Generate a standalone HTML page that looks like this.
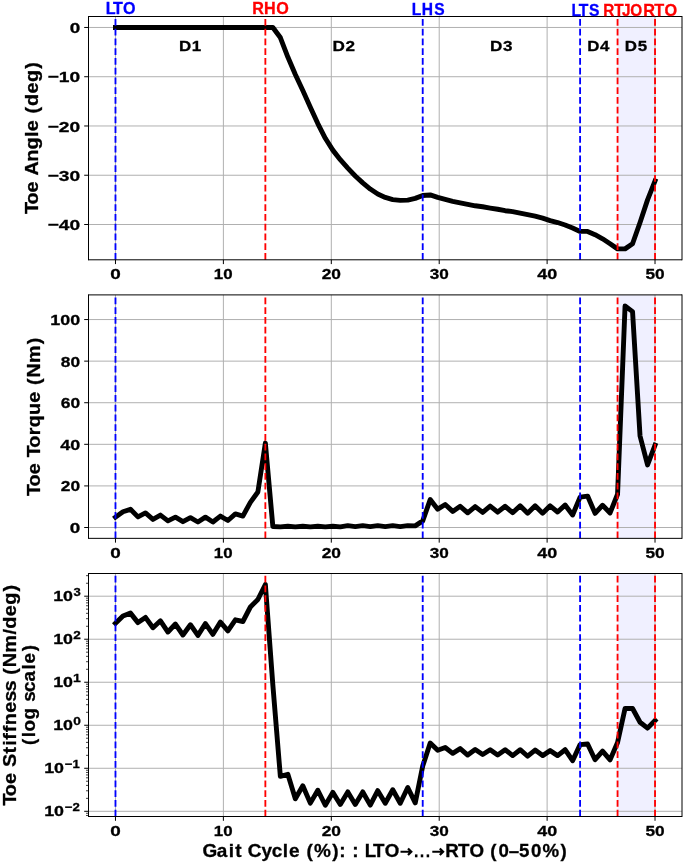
<!DOCTYPE html><html><head><meta charset="utf-8"><style>html,body{margin:0;padding:0;background:#fff;overflow:hidden}svg{display:block}text{font-family:"Liberation Sans",sans-serif;font-weight:bold;font-kerning:none;white-space:pre}svg{will-change:transform}</style></head><body>
<svg width="685" height="864" viewBox="0 0 685 864">
<rect width="685" height="864" fill="#fff"/>
<clipPath id="c0"><rect x="88.5" y="16.5" width="593.5" height="243.3"/></clipPath>
<rect x="617.56" y="16.5" width="37.47" height="243.30" fill="#f0f0ff"/>
<path d="M115.48 16.5V259.8M223.39 16.5V259.8M331.30 16.5V259.8M439.21 16.5V259.8M547.12 16.5V259.8M655.03 16.5V259.8M88.5 27.46H682.0M88.5 76.72H682.0M88.5 125.98H682.0M88.5 175.24H682.0M88.5 224.50H682.0" stroke="#b0b0b0" stroke-width="1" fill="none"/>
<polyline clip-path="url(#c0)" points="115.48,27.46 122.97,27.46 130.47,27.46 137.96,27.46 145.46,27.46 152.95,27.46 160.44,27.46 167.94,27.46 175.43,27.46 182.92,27.46 190.42,27.46 197.91,27.46 205.41,27.46 212.90,27.46 220.39,27.46 227.89,27.46 235.38,27.46 242.87,27.46 250.37,27.46 257.86,27.46 265.36,27.46 272.85,27.46 280.34,37.56 287.84,57.02 295.33,74.50 302.82,90.51 310.32,107.26 317.81,123.52 325.31,138.30 332.80,150.12 340.29,159.72 347.79,168.10 355.28,175.98 362.77,182.88 370.27,189.03 377.76,193.96 385.26,197.41 392.75,199.62 400.24,200.36 407.74,200.12 415.23,198.39 422.72,195.44 430.22,194.94 437.71,197.41 445.21,199.38 452.70,201.35 460.19,202.83 467.69,204.30 475.18,205.78 482.67,206.77 490.17,208.05 497.66,209.23 505.16,210.71 512.65,211.69 520.14,213.17 527.64,214.65 535.13,216.13 542.62,218.10 550.12,220.56 557.61,222.53 565.11,224.99 572.60,227.95 580.09,231.40 587.59,231.40 595.08,234.65 602.57,238.79 610.07,243.71 617.56,248.88 625.05,248.88 632.55,243.71 640.04,222.53 647.54,199.87 655.03,180.95" fill="none" stroke="#000" stroke-width="4.9" stroke-linejoin="round" stroke-linecap="square"/>
<path d="M115.48 259.8V16.5" stroke="#0000ff" stroke-width="1.84" stroke-dasharray="6.8 2.95" fill="none"/>
<path d="M265.36 259.8V16.5" stroke="#ff0000" stroke-width="1.84" stroke-dasharray="6.8 2.95" fill="none"/>
<path d="M422.72 259.8V16.5" stroke="#0000ff" stroke-width="1.84" stroke-dasharray="6.8 2.95" fill="none"/>
<path d="M580.09 259.8V16.5" stroke="#0000ff" stroke-width="1.84" stroke-dasharray="6.8 2.95" fill="none"/>
<path d="M617.56 259.8V16.5" stroke="#ff0000" stroke-width="1.84" stroke-dasharray="6.8 2.95" fill="none"/>
<path d="M655.03 259.8V16.5" stroke="#ff0000" stroke-width="1.84" stroke-dasharray="6.8 2.95" fill="none"/>
<path d="M88.5 16.5H682.0M88.5 259.8H682.0M88.5 16.0V260.3M682.0 16.0V260.3" stroke="#000" stroke-width="1" fill="none"/>
<path d="M115.48 259.8v4.3M223.39 259.8v4.3M331.30 259.8v4.3M439.21 259.8v4.3M547.12 259.8v4.3M655.03 259.8v4.3M88.5 27.46h-4.3M88.5 76.72h-4.3M88.5 125.98h-4.3M88.5 175.24h-4.3M88.5 224.50h-4.3" stroke="#000" stroke-width="1" fill="none"/>
<clipPath id="c1"><rect x="88.5" y="294.9" width="593.5" height="243.45000000000005"/></clipPath>
<rect x="617.56" y="294.9" width="37.47" height="243.45" fill="#f0f0ff"/>
<path d="M115.48 294.9V538.35M223.39 294.9V538.35M331.30 294.9V538.35M439.21 294.9V538.35M547.12 294.9V538.35M655.03 294.9V538.35M88.5 527.50H682.0M88.5 485.91H682.0M88.5 444.32H682.0M88.5 402.73H682.0M88.5 361.14H682.0M88.5 319.55H682.0" stroke="#b0b0b0" stroke-width="1" fill="none"/>
<polyline clip-path="url(#c1)" points="115.48,517.19 122.97,511.76 130.47,509.30 137.96,516.89 145.46,512.94 152.95,519.39 160.44,515.11 167.94,520.85 175.43,517.16 182.92,521.68 190.42,517.60 197.91,522.01 205.41,517.16 212.90,522.01 220.39,516.06 227.89,520.49 235.38,513.90 242.87,516.10 250.37,502.34 257.86,492.00 265.36,443.07 272.85,526.46 280.34,526.88 287.84,526.25 295.33,526.88 302.82,526.25 310.32,526.88 317.81,526.25 325.31,526.88 332.80,526.25 340.29,526.88 347.79,525.63 355.28,526.56 362.77,525.63 370.27,526.56 377.76,525.63 385.26,526.56 392.75,525.63 400.24,526.56 407.74,525.63 415.23,525.84 422.72,520.85 430.22,499.63 437.71,509.20 445.21,504.52 452.70,511.40 460.19,506.29 467.69,512.80 475.18,506.60 482.67,512.40 490.17,506.08 497.66,512.11 505.16,506.29 512.65,512.74 520.14,505.87 527.64,513.15 535.13,505.87 542.62,513.15 550.12,505.87 557.61,512.01 565.11,505.04 572.60,515.02 580.09,497.14 587.59,496.10 595.08,513.36 602.57,505.25 610.07,512.94 617.56,494.23 625.05,306.03 632.55,311.65 640.04,436.00 647.54,464.91 655.03,445.15" fill="none" stroke="#000" stroke-width="4.9" stroke-linejoin="round" stroke-linecap="square"/>
<path d="M115.48 538.35V294.9" stroke="#0000ff" stroke-width="1.84" stroke-dasharray="6.8 2.95" fill="none"/>
<path d="M265.36 538.35V294.9" stroke="#ff0000" stroke-width="1.84" stroke-dasharray="6.8 2.95" fill="none"/>
<path d="M422.72 538.35V294.9" stroke="#0000ff" stroke-width="1.84" stroke-dasharray="6.8 2.95" fill="none"/>
<path d="M580.09 538.35V294.9" stroke="#0000ff" stroke-width="1.84" stroke-dasharray="6.8 2.95" fill="none"/>
<path d="M617.56 538.35V294.9" stroke="#ff0000" stroke-width="1.84" stroke-dasharray="6.8 2.95" fill="none"/>
<path d="M655.03 538.35V294.9" stroke="#ff0000" stroke-width="1.84" stroke-dasharray="6.8 2.95" fill="none"/>
<path d="M88.5 294.9H682.0M88.5 538.35H682.0M88.5 294.4V538.85M682.0 294.4V538.85" stroke="#000" stroke-width="1" fill="none"/>
<path d="M115.48 538.35v4.3M223.39 538.35v4.3M331.30 538.35v4.3M439.21 538.35v4.3M547.12 538.35v4.3M655.03 538.35v4.3M88.5 527.50h-4.3M88.5 485.91h-4.3M88.5 444.32h-4.3M88.5 402.73h-4.3M88.5 361.14h-4.3M88.5 319.55h-4.3" stroke="#000" stroke-width="1" fill="none"/>
<clipPath id="c2"><rect x="88.5" y="573.5" width="593.5" height="243.0"/></clipPath>
<rect x="617.56" y="573.5" width="37.47" height="243.00" fill="#f0f0ff"/>
<path d="M115.48 573.5V816.5M223.39 573.5V816.5M331.30 573.5V816.5M439.21 573.5V816.5M547.12 573.5V816.5M655.03 573.5V816.5M88.5 811.30H682.0M88.5 768.28H682.0M88.5 725.26H682.0M88.5 682.24H682.0M88.5 639.22H682.0M88.5 596.20H682.0" stroke="#b0b0b0" stroke-width="1" fill="none"/>
<polyline clip-path="url(#c2)" points="115.48,623.30 122.97,615.99 130.47,613.11 137.96,622.61 145.46,617.41 152.95,627.73 160.44,620.81 167.94,632.04 175.43,624.03 182.92,635.00 190.42,624.72 197.91,635.43 205.41,623.60 212.90,634.32 220.39,622.10 227.89,630.83 235.38,619.82 242.87,621.50 250.37,607.00 257.86,599.51 265.36,584.50 272.85,685.04 280.34,776.28 287.84,774.30 295.33,798.82 302.82,785.79 310.32,803.13 317.81,790.22 325.31,805.28 332.80,792.37 340.29,804.42 347.79,791.90 355.28,804.42 362.77,791.94 370.27,805.11 377.76,790.65 385.26,803.30 392.75,789.70 400.24,803.30 407.74,787.47 415.23,802.91 422.72,766.09 430.22,743.07 437.71,750.25 445.21,747.46 452.70,753.35 460.19,748.58 467.69,755.07 475.18,749.44 482.67,754.51 490.17,749.70 497.66,754.94 505.16,749.70 512.65,755.59 520.14,749.70 527.64,756.23 535.13,750.08 542.62,755.59 550.12,750.60 557.61,755.59 565.11,749.70 572.60,760.67 580.09,744.66 587.59,743.97 595.08,759.68 602.57,751.07 610.07,759.89 617.56,742.47 625.05,708.48 632.55,708.48 640.04,722.25 647.54,728.14 655.03,720.57" fill="none" stroke="#000" stroke-width="4.9" stroke-linejoin="round" stroke-linecap="square"/>
<path d="M115.48 816.5V573.5" stroke="#0000ff" stroke-width="1.84" stroke-dasharray="6.8 2.95" fill="none"/>
<path d="M265.36 816.5V573.5" stroke="#ff0000" stroke-width="1.84" stroke-dasharray="6.8 2.95" fill="none"/>
<path d="M422.72 816.5V573.5" stroke="#0000ff" stroke-width="1.84" stroke-dasharray="6.8 2.95" fill="none"/>
<path d="M580.09 816.5V573.5" stroke="#0000ff" stroke-width="1.84" stroke-dasharray="6.8 2.95" fill="none"/>
<path d="M617.56 816.5V573.5" stroke="#ff0000" stroke-width="1.84" stroke-dasharray="6.8 2.95" fill="none"/>
<path d="M655.03 816.5V573.5" stroke="#ff0000" stroke-width="1.84" stroke-dasharray="6.8 2.95" fill="none"/>
<path d="M88.5 573.5H682.0M88.5 816.5H682.0M88.5 573.0V817.0M682.0 573.0V817.0" stroke="#000" stroke-width="1" fill="none"/>
<path d="M115.48 816.5v4.3M223.39 816.5v4.3M331.30 816.5v4.3M439.21 816.5v4.3M547.12 816.5v4.3M655.03 816.5v4.3M88.5 811.30h-4.3M88.5 768.28h-4.3M88.5 725.26h-4.3M88.5 682.24h-4.3M88.5 639.22h-4.3M88.5 596.20h-4.3" stroke="#000" stroke-width="1" fill="none"/>
<path d="M88.5 815.47h-2.5M88.5 813.27h-2.5M88.5 798.35h-2.5M88.5 790.77h-2.5M88.5 785.40h-2.5M88.5 781.23h-2.5M88.5 777.82h-2.5M88.5 774.94h-2.5M88.5 772.45h-2.5M88.5 770.25h-2.5M88.5 755.33h-2.5M88.5 747.75h-2.5M88.5 742.38h-2.5M88.5 738.21h-2.5M88.5 734.80h-2.5M88.5 731.92h-2.5M88.5 729.43h-2.5M88.5 727.23h-2.5M88.5 712.31h-2.5M88.5 704.73h-2.5M88.5 699.36h-2.5M88.5 695.19h-2.5M88.5 691.78h-2.5M88.5 688.90h-2.5M88.5 686.41h-2.5M88.5 684.21h-2.5M88.5 669.29h-2.5M88.5 661.71h-2.5M88.5 656.34h-2.5M88.5 652.17h-2.5M88.5 648.76h-2.5M88.5 645.88h-2.5M88.5 643.39h-2.5M88.5 641.19h-2.5M88.5 626.27h-2.5M88.5 618.69h-2.5M88.5 613.32h-2.5M88.5 609.15h-2.5M88.5 605.74h-2.5M88.5 602.86h-2.5M88.5 600.37h-2.5M88.5 598.17h-2.5M88.5 583.25h-2.5M88.5 575.67h-2.5" stroke="#000" stroke-width="0.75" fill="none"/>
<text transform="translate(47.60,230.05) scale(1.2364,1)" font-size="15.54" fill="#000" stroke="#000" stroke-width="0.3">−40</text>
<text transform="translate(47.60,180.77) scale(1.2390,1)" font-size="15.50" fill="#000" stroke="#000" stroke-width="0.3">−30</text>
<text transform="translate(47.60,131.53) scale(1.2364,1)" font-size="15.54" fill="#000" stroke="#000" stroke-width="0.3">−20</text>
<text transform="translate(47.60,82.27) scale(1.2364,1)" font-size="15.54" fill="#000" stroke="#000" stroke-width="0.3">−10</text>
<text transform="translate(69.65,33.01) scale(1.2180,1)" font-size="15.54" fill="#000" stroke="#000" stroke-width="0.3">0</text>
<text transform="translate(110.23,279.35) scale(1.2180,1)" font-size="15.54" fill="#000" stroke="#000" stroke-width="0.3">0</text>
<text transform="translate(213.83,279.35) scale(1.0852,1)" font-size="15.54" fill="#000" stroke="#000" stroke-width="0.3">10</text>
<text transform="translate(321.70,279.35) scale(1.1176,1)" font-size="15.54" fill="#000" stroke="#000" stroke-width="0.3">20</text>
<text transform="translate(429.82,279.33) scale(1.1074,1)" font-size="15.50" fill="#000" stroke="#000" stroke-width="0.3">30</text>
<text transform="translate(537.35,279.35) scale(1.1579,1)" font-size="15.54" fill="#000" stroke="#000" stroke-width="0.3">40</text>
<text transform="translate(645.50,279.35) scale(1.1134,1)" font-size="15.54" fill="#000" stroke="#000" stroke-width="0.3">50</text>
<text transform="translate(69.65,533.05) scale(1.2180,1)" font-size="15.54" fill="#000" stroke="#000" stroke-width="0.3">0</text>
<text transform="translate(60.80,491.46) scale(1.1176,1)" font-size="15.54" fill="#000" stroke="#000" stroke-width="0.3">20</text>
<text transform="translate(60.13,449.87) scale(1.1579,1)" font-size="15.54" fill="#000" stroke="#000" stroke-width="0.3">40</text>
<text transform="translate(60.76,408.28) scale(1.1197,1)" font-size="15.54" fill="#000" stroke="#000" stroke-width="0.3">60</text>
<text transform="translate(60.85,366.69) scale(1.1145,1)" font-size="15.54" fill="#000" stroke="#000" stroke-width="0.3">80</text>
<text transform="translate(50.27,325.10) scale(1.1520,1)" font-size="15.54" fill="#000" stroke="#000" stroke-width="0.3">100</text>
<text transform="translate(110.23,557.90) scale(1.2180,1)" font-size="15.54" fill="#000" stroke="#000" stroke-width="0.3">0</text>
<text transform="translate(213.83,557.90) scale(1.0852,1)" font-size="15.54" fill="#000" stroke="#000" stroke-width="0.3">10</text>
<text transform="translate(321.70,557.90) scale(1.1176,1)" font-size="15.54" fill="#000" stroke="#000" stroke-width="0.3">20</text>
<text transform="translate(429.82,557.88) scale(1.1074,1)" font-size="15.50" fill="#000" stroke="#000" stroke-width="0.3">30</text>
<text transform="translate(537.35,557.90) scale(1.1579,1)" font-size="15.54" fill="#000" stroke="#000" stroke-width="0.3">40</text>
<text transform="translate(645.50,557.90) scale(1.1134,1)" font-size="15.54" fill="#000" stroke="#000" stroke-width="0.3">50</text>
<text transform="translate(110.23,836.05) scale(1.2180,1)" font-size="15.54" fill="#000" stroke="#000" stroke-width="0.3">0</text>
<text transform="translate(213.83,836.05) scale(1.0852,1)" font-size="15.54" fill="#000" stroke="#000" stroke-width="0.3">10</text>
<text transform="translate(321.70,836.05) scale(1.1176,1)" font-size="15.54" fill="#000" stroke="#000" stroke-width="0.3">20</text>
<text transform="translate(429.82,836.03) scale(1.1074,1)" font-size="15.50" fill="#000" stroke="#000" stroke-width="0.3">30</text>
<text transform="translate(537.35,836.05) scale(1.1579,1)" font-size="15.54" fill="#000" stroke="#000" stroke-width="0.3">40</text>
<text transform="translate(645.50,836.05) scale(1.1134,1)" font-size="15.54" fill="#000" stroke="#000" stroke-width="0.3">50</text>
<text transform="translate(44.18,815.95) scale(1.1490,1)" font-size="15.54" fill="#000" stroke="#000" stroke-width="0.3">10</text>
<text transform="translate(64.75,810.80) scale(1.1993,1)" font-size="11.03" fill="#000" stroke="#000" stroke-width="0.3">−2</text>
<text transform="translate(44.18,772.93) scale(1.1490,1)" font-size="15.54" fill="#000" stroke="#000" stroke-width="0.3">10</text>
<text transform="translate(64.76,767.67) scale(1.1856,1)" font-size="11.03" fill="#000" stroke="#000" stroke-width="0.3">−1</text>
<text transform="translate(53.18,729.91) scale(1.1490,1)" font-size="15.54" fill="#000" stroke="#000" stroke-width="0.3">10</text>
<text transform="translate(73.26,724.76) scale(1.2394,1)" font-size="11.03" fill="#000" stroke="#000" stroke-width="0.3">0</text>
<text transform="translate(53.18,686.89) scale(1.1490,1)" font-size="15.54" fill="#000" stroke="#000" stroke-width="0.3">10</text>
<text transform="translate(72.92,681.63) scale(1.2667,1)" font-size="11.03" fill="#000" stroke="#000" stroke-width="0.3">1</text>
<text transform="translate(53.18,643.87) scale(1.1490,1)" font-size="15.54" fill="#000" stroke="#000" stroke-width="0.3">10</text>
<text transform="translate(73.33,638.72) scale(1.2243,1)" font-size="11.03" fill="#000" stroke="#000" stroke-width="0.3">2</text>
<text transform="translate(53.18,600.85) scale(1.1490,1)" font-size="15.54" fill="#000" stroke="#000" stroke-width="0.3">10</text>
<text transform="translate(73.50,595.70) scale(1.1858,1)" font-size="11.03" fill="#000" stroke="#000" stroke-width="0.3">3</text>
<text x="-0.27 8.10 18.83 24.08 33.74 45.96 56.69 67.70 72.90 78.16 88.42 95.18 106.20 116.29 128.06" transform="translate(38.05,213.80) rotate(-90) scale(1.1337,1)" font-size="17.51" fill="#000" stroke="#000" stroke-width="0.3">Toe Angle (deg)</text>
<text x="-0.24 8.21 19.05 24.32 34.37 42.82 53.97 61.02 72.00 83.04 88.32 98.71 105.57 118.46 135.21" transform="translate(40.40,495.70) rotate(-90) scale(1.1205,1)" font-size="17.59" fill="#000" stroke="#000" stroke-width="0.3">Toe Torque (Nm)</text>
<text x="-0.28 8.45 19.67 25.16 35.39 47.77 54.85 60.53 67.42 73.91 85.31 95.56 104.97 110.47 120.36 127.44 140.76 157.49 162.91 174.44 184.98 197.27" transform="translate(15.80,805.30) rotate(-90) scale(1.0842,1)" font-size="18.31" fill="#000" stroke="#000" stroke-width="0.3">Toe Stiffness (Nm/deg)</text>
<text x="-1.02 6.23 11.52 22.62 27.88 39.28 48.40 58.19 69.35 74.96 86.44" transform="translate(34.90,743.80) rotate(-90) scale(1.0707,1)" font-size="17.53" fill="#000" stroke="#000" stroke-width="0.3">(log scale)</text>
<text x="-1.13 12.48 23.92 30.04 35.44 41.95 54.93 64.89 75.33 81.06 86.47 97.72 105.04 122.34 128.94 134.35 141.16" transform="translate(203.60,857.30) scale(1.0522,1)" font-size="18.02" fill="#000" stroke="#000" stroke-width="0.3">Gait Cycle (%): :</text>
<text x="-1.51 6.52 17.82" transform="translate(366.30,857.30) scale(1.0392,1)" font-size="18.02" fill="#000" stroke="#000" stroke-width="0.3">LTO</text>
<text x="-1.49 10.59 21.76 27.17 41.92 49.84 59.72 69.63 81.11 92.14 109.58" transform="translate(446.90,857.30) scale(1.0371,1)" font-size="18.02" fill="#000" stroke="#000" stroke-width="0.3">RTO (0–50%)</text>
<path d="M400.50 851.75H410.50M408.00 848.50L411.30 851.75L408.00 855.00" stroke="#000" stroke-width="2.2" fill="none" stroke-linejoin="miter"/>
<path d="M432.30 851.75H442.30M439.80 848.50L443.10 851.75L439.80 855.00" stroke="#000" stroke-width="2.2" fill="none" stroke-linejoin="miter"/>
<rect x="414.95" y="854.4" width="2.5" height="2.9"/>
<rect x="420.75" y="854.4" width="2.5" height="2.9"/>
<rect x="426.65" y="854.4" width="2.5" height="2.9"/>
<text x="-1.32 5.73 15.66" transform="translate(107.08,14.00) scale(1.0175,1)" font-size="15.84" fill="#0000ff" stroke="#0000ff" stroke-width="0.3">LTO</text>
<text x="-1.24 10.44 22.43" transform="translate(253.45,14.30) scale(1.0201,1)" font-size="15.84" fill="#ff0000" stroke="#ff0000" stroke-width="0.3">RHO</text>
<text x="-1.13 9.15 21.66" transform="translate(412.82,14.60) scale(0.9841,1)" font-size="15.84" fill="#0000ff" stroke="#0000ff" stroke-width="0.3">LHS</text>
<text x="-1.17 6.16 16.50" transform="translate(572.69,15.50) scale(0.9887,1)" font-size="15.84" fill="#0000ff" stroke="#0000ff" stroke-width="0.3">LTS</text>
<text x="-0.93 10.43 18.40 26.97" transform="translate(604.16,15.80) scale(0.9692,1)" font-size="15.84" fill="#ff0000" stroke="#ff0000" stroke-width="0.3">RTJO</text>
<text x="-1.28 9.39 19.27" transform="translate(644.63,16.10) scale(1.0288,1)" font-size="15.84" fill="#ff0000" stroke="#ff0000" stroke-width="0.3">RTO</text>
<text x="-1.02 10.89" transform="translate(180.02,50.80) scale(1.0900,1)" font-size="15.55" fill="#000" stroke="#000" stroke-width="0.3">D1</text>
<text x="-1.01 10.87" transform="translate(333.64,50.80) scale(1.1026,1)" font-size="15.55" fill="#000" stroke="#000" stroke-width="0.3">D2</text>
<text x="-1.01 10.87" transform="translate(491.01,50.80) scale(1.0985,1)" font-size="15.55" fill="#000" stroke="#000" stroke-width="0.3">D3</text>
<text x="-1.06 10.63" transform="translate(588.43,50.80) scale(1.0826,1)" font-size="15.55" fill="#000" stroke="#000" stroke-width="0.3">D4</text>
<text x="-1.01 10.90" transform="translate(625.90,50.80) scale(1.0898,1)" font-size="15.55" fill="#000" stroke="#000" stroke-width="0.3">D5</text>
</svg></body></html>
